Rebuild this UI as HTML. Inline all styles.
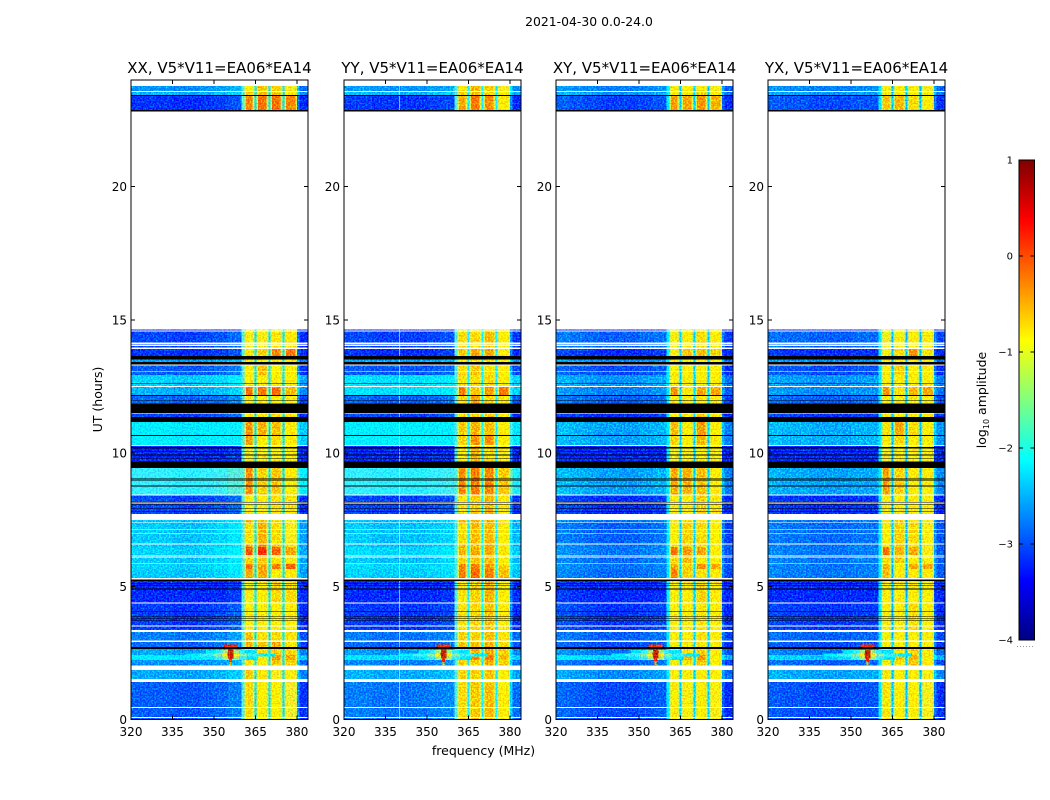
<!DOCTYPE html>
<html>
<head>
<meta charset="utf-8">
<title>2021-04-30 0.0-24.0</title>
<style>
html,body{margin:0;padding:0;background:#fff;}
svg{display:block;}
text{font-family:"DejaVu Sans","Liberation Sans",sans-serif;fill:#000;}
</style>
</head>
<body>
<svg id="figure" xmlns="http://www.w3.org/2000/svg" width="1050" height="800" viewBox="0 0 1050 800">
  <defs>
    <filter id="speckle" filterUnits="userSpaceOnUse" x="0" y="0" width="1050" height="800" color-interpolation-filters="sRGB">
      <feTurbulence type="fractalNoise" baseFrequency="0.62" numOctaves="1" seed="7" result="n"/>
      <feColorMatrix in="n" type="matrix" values="1 0 0 0 0  0 0 0 0 0.5  0 0 0 0 0.5  0 0 0 0 1" result="m"/>
      <feComposite in="SourceGraphic" in2="m" operator="arithmetic" k1="1.2" k2="0.52" k3="0" k4="0" result="scaled"/>
      <feColorMatrix in="scaled" type="matrix" values="1 0 0 0 0  0 0.96 0 0 -0.16  0 0 1.1 0 0  0 0 0 1 0" result="shift"/>
      <feColorMatrix in="n" type="matrix" values="0 0 0 0 0  0 1.3 0 0 -0.49  0 0 0 0 0  0 0 0 0 1" result="g"/>
      <feComposite in="shift" in2="g" operator="arithmetic" k1="0" k2="1" k3="1" k4="0" result="sum"/>
      <feComposite in="sum" in2="SourceAlpha" operator="in"/>
    </filter>
  </defs>
  <text x="589" y="26" font-size="12.4" text-anchor="middle">2021-04-30 0.0-24.0</text>
  <text x="483.5" y="755" font-size="12.5" text-anchor="middle">frequency (MHz)</text>
  <text transform="translate(102,399.5) rotate(-90)" font-size="12.5" text-anchor="middle">UT (hours)</text>
  <text transform="translate(986,400) rotate(-90)" font-size="12.5" text-anchor="middle">log<tspan font-size="8" dy="3">10</tspan><tspan dy="-3"> amplitude</tspan></text>
  <g id="panels"></g>
  <g id="colorbar"></g>
</svg>
<script>
// ---- shared axes data ----
const panelTitles = ["XX, V5*V11=EA06*EA14", "YY, V5*V11=EA06*EA14", "XY, V5*V11=EA06*EA14", "YX, V5*V11=EA06*EA14"];
const freqTicks = [320, 335, 350, 365, 380];
const timeTicks = [0, 5, 10, 15, 20];
const colorTicks = [1, 0, -1, -2, -3, -4];

// ---- time rows: upper edge in UT hours, and the band each row belongs to ----
// band index >= 0 is data, W = no data (white), K = zero amplitude (black)
const W = -1, K = -2;
const rowTopUT = [
  .056,.094,.432,.469,1.407,1.520,1.857,2.026,2.233,2.420,2.645,2.720,2.908,2.964,3.283,3.358,3.490,3.527,3.696,3.722,
  3.771,3.794,3.846,3.869,4.045,4.071,4.353,4.383,4.882,4.908,5.009,5.032,5.099,5.122,5.197,5.261,5.310,5.647,5.846,5.872,
  6.079,6.109,6.146,6.173,6.473,6.567,6.597,6.976,6.998,7.122,7.148,7.373,7.400,7.486,7.711,7.786,7.809,7.917,7.936,8.049,
  8.064,8.109,8.135,8.161,8.405,8.439,8.735,8.773,8.949,8.976,9.006,9.036,9.448,9.689,9.790,9.812,9.914,9.936,10.038,10.060,
  10.165,10.236,10.270,10.300,10.645,10.675,11.174,11.351,11.475,11.501,11.865,11.970,12.000,12.146,12.176,12.484,12.514,12.582,12.615,12.927,
  13.051,13.084,13.291,13.328,13.426,13.516,13.651,13.902,13.959,14.015,14.053,14.079,14.146,14.552,14.604,14.641,22.825,22.870,23.396,23.433,
  23.546,23.595,23.771,24
];
const rowBand = [
  0,W,0,W,0,W,1,W,2,3,4,K,5,W,6,W,7,W,7,K,
  7,K,7,K,7,K,7,W,8,K,8,K,8,K,8,K,W,9,10,W,
  11,W,11,W,12,13,W,14,W,14,W,14,W,15,W,16,K,16,K,16,
  K,16,W,K,16,W,17,K,17,K,17,K,17,K,18,K,18,K,18,K,
  18,K,18,W,19,K,20,K,21,W,K,22,K,22,K,23,W,24,K,24,
  25,W,25,W,K,26,K,27,W,28,W,28,W,28,W,29,W,K,30,K,
  31,W,32,W
];

// ---- log10 amplitude, background level per band (33 bands) ----
const bgXX = [-3.0,-2.65,-2.75,-2.3,-2.65,-2.95,-2.85,-3.15,-3.3,-2.5,-2.45,-2.5,-2.45,-2.5,-2.5,-2.5,-3.1,-1.95,-3.3,-2.3,-2.3,-3.1,-2.95,-2.6,-2.45,-3.0,-2.7,-3.2,-3.1,-3.4,-3.2,-2.6,-2.75];
const bgYY = [-2.85,-2.6,-2.8,-2.35,-2.7,-2.95,-2.85,-3.15,-3.25,-2.45,-2.4,-2.5,-2.4,-2.5,-2.5,-2.5,-3.1,-1.95,-3.25,-2.25,-2.25,-3.1,-2.95,-2.35,-2.35,-3.0,-2.65,-3.2,-3.1,-3.4,-3.15,-2.55,-2.7];
const bgXY = [-3.05,-2.75,-2.95,-2.4,-2.85,-3.05,-2.95,-3.15,-3.25,-2.9,-2.85,-2.9,-2.85,-2.85,-2.95,-2.85,-3.2,-2.65,-3.3,-2.65,-2.65,-3.2,-2.95,-2.8,-2.7,-3.05,-2.75,-3.2,-2.95,-3.4,-3.1,-2.7,-2.8];
const bgYX = [-3.05,-2.65,-2.95,-2.45,-2.85,-3.05,-2.95,-3.15,-3.3,-2.85,-2.85,-2.85,-2.85,-2.85,-2.9,-2.85,-3.2,-2.65,-3.3,-2.6,-2.6,-3.15,-2.95,-2.75,-2.7,-3.05,-2.75,-3.2,-2.95,-3.4,-3.05,-2.7,-2.8];

// ---- log10 amplitude in the four 5 MHz sub-bands, per band ----
const passXX = [[-.55,-.7,-.8,-.95],[-.45,-.6,-.9,-.85],[-.6,-.7,-.45,-.5],[-.5,-.6,-.2,-.3],[-.6,-.55,-.5,-.55],[-.35,-.45,-.35,-.6],[-.4,-.6,-.55,-.6],[-.8,-.7,-.7,-.7],[-.85,-.75,-.55,-.55],[-.3,-.3,-.7,-.7],[-.05,-.3,-.1,0],[-.5,-.45,-.6,-.85],[.1,.25,0,-.3],[-.3,-.2,-.4,-.6],[-.55,-.35,-.55,-.9],[-.35,-.4,-.6,-.85],[-.75,-.7,-.6,-.6],[-.2,-.5,-.45,-.7],[-.9,-.85,-.85,-.8],[-.25,-.65,-.55,-.65],[-.2,-.35,-.4,-.65],[-.6,-.6,-.6,-.65],[-.75,-.8,-.8,-.85],[-.05,-.1,-.05,-.4],[-.7,-.65,-.75,-.75],[-.7,-.4,-.75,-.7],[-.75,-.65,-.6,-.6],[-.6,-.5,-.15,-.1],[-.85,-.85,-.6,-.6],[-.8,-.8,-.7,-.7],[-.15,-.05,-.05,-.15],[-.5,-.4,-.45,-.65],[-.7,-.45,-.5,-.9]];
const passYY = [[-.55,-.45,-.4,-.7],[-.5,-.5,-.45,-.7],[-.5,-.5,-.3,-.5],[-.45,-.15,-.1,-.4],[-.5,-.35,-.3,-.5],[-.4,-.4,-.35,-.55],[-.5,-.5,-.4,-.6],[-.6,-.55,-.45,-.7],[-.6,-.5,-.35,-.65],[-.1,0,-.1,-.4],[-.15,-.1,-.2,-.5],[-.5,-.45,-.4,-.75],[-.35,-.3,-.3,-.6],[-.45,-.45,-.35,-.7],[-.55,-.4,-.4,-.75],[-.4,-.35,-.35,-.6],[-.6,-.5,-.4,-.65],[-.15,-.1,-.15,-.45],[-.65,-.4,-.6,-.85],[-.5,-.2,-.2,-.7],[-.45,-.35,-.4,-.65],[-.55,-.55,-.5,-.65],[-.55,-.3,-.55,-.7],[-.1,-.45,-.25,-.1],[-.6,-.55,-.55,-.7],[-.55,-.45,-.6,-.7],[-.7,-.6,-.55,-.65],[-.45,-.3,-.3,-.65],[-.55,-.55,-.4,-.8],[-.7,-.7,-.6,-.7],[-.3,-.1,-.2,-.65],[-.5,-.4,-.5,-.8],[-.6,-.35,-.5,-.9]];
const passXY = [[-.65,-.85,-.8,-.85],[-.7,-.8,-.8,-.8],[-.7,-.6,-.45,-.75],[-.65,-.3,-.2,-.7],[-.7,-.6,-.5,-.8],[-.75,-.7,-.6,-.8],[-.8,-.75,-.6,-.75],[-.8,-.8,-.6,-.75],[-.75,-.8,-.5,-.65],[-.1,-.5,-.6,-.8],[-.3,-.5,-.2,-.3],[-.5,-.4,-.7,-.8],[-.05,-.25,-.3,-.8],[-.6,-.5,-.6,-.8],[-.7,-.5,-.55,-.8],[-.6,-.6,-.6,-.8],[-.75,-.7,-.5,-.6],[-.3,-.35,-.4,-.65],[-.9,-.85,-.8,-.85],[-.5,-.75,-.35,-.65],[-.4,-.65,-.25,-.7],[-.7,-.7,-.5,-.7],[-.7,-.85,-.8,-.85],[-.2,-.7,-.3,-.3],[-.7,-.7,-.8,-.8],[-.7,-.7,-.7,-.8],[-.75,-.7,-.65,-.7],[-.8,-.45,-.4,-.5],[-.85,-.8,-.55,-.65],[-.8,-.8,-.7,-.7],[-.25,-.3,-.2,-.35],[-.7,-.65,-.5,-.7],[-.8,-.75,-.65,-.85]];
const passYX = [[-.6,-.8,-.7,-.9],[-.6,-.75,-.65,-.85],[-.65,-.6,-.45,-.8],[-.6,-.4,-.35,-.8],[-.65,-.6,-.5,-.8],[-.7,-.75,-.7,-.8],[-.75,-.75,-.7,-.8],[-.75,-.8,-.55,-.7],[-.75,-.8,-.7,-.7],[-.4,-.65,-.7,-.8],[-.35,-.65,-.3,-.3],[-.55,-.45,-.7,-.85],[-.05,-.35,-.3,-.85],[-.6,-.5,-.6,-.85],[-.7,-.5,-.55,-.85],[-.6,-.5,-.6,-.85],[-.8,-.75,-.65,-.75],[-.25,-.5,-.65,-.7],[-.9,-.85,-.85,-.85],[-.75,-.55,-.7,-.75],[-.6,-.3,-.55,-.7],[-.7,-.7,-.7,-.75],[-.75,-.85,-.85,-.85],[-.2,-.6,-.4,-.3],[-.7,-.7,-.8,-.8],[-.75,-.5,-.8,-.8],[-.8,-.7,-.7,-.75],[-.8,-.55,-.2,-.6],[-.9,-.85,-.8,-.8],[-.8,-.8,-.7,-.7],[-.45,-.4,-.55,-.7],[-.7,-.65,-.7,-.8],[-.8,-.7,-.7,-.9]];
const passLevelShift = -0.08;

// ---- spectral shape of each polarisation ----
const bgShapeXX = [.05,.05,.05,0,0,.05,.1,.2];
const bgShapeYY = [.05,.05,0,0,0,0,.05,.1];
const bgShapeXY = [.15,.1,.05,0,0,0,.05,.1];
const bgShapeYX = [.1,.05,.05,0,0,0,.05,.05];
const edgeLevels = [-1.75,-1.75,-2.15,-2.2];
const haloLevels = [-1.2,-1.15,-1.2,-1.25];
const notchLevels = [-2.3,-2.0,-2.4,-2.5];
const nearWingOffsets = [.3,.45,.15,.2];
const farWingOffsets = [-.15,-.05,-.15,-.1];
const rfiChannels = [null,340,null,null];

// ---- bright interference near 356 MHz ----
const spikeFreq = 356;
const spikeUT = [2.10,2.22,2.34,2.46,2.58,2.76];
const spikeHalfWidth = [.4,.6,1.0,1.1,1.0,2.5];
const spikeLevel = [-.5,.2,.75,.8,.75,.2];
const glowUT = [2.30,2.30,2.30,2.42,2.42,2.42,2.42,2.54,2.54,2.54];
const glowHalfWidth = [10,6,3,16,11,6,3,9,5,3];
const glowLevel = [-2.3,-1.9,-1.4,-2.25,-1.85,-1.5,-.9,-2.3,-1.9,-1.4];

// ---- channel columns (MHz) ----
const columnEdges = [320,325,330,335,340,345,350,355,360,361,361.6,364,364.6,365.4,366,369,369.7,370.5,371,374,374.7,375.5,376,379.4,380,381,384];
const columnKind = ["bg0","bg1","bg2","bg3","bg4","bg5","bg6","bg7","edge","halo","p0","halo","notch","halo","p1","halo","notch","halo","p2","halo","notch","halo","p3","halo","near","far"];

const bgByPanel = [bgXX, bgYY, bgXY, bgYX];
const passByPanel = [passXX, passYY, passXY, passYX];
const shapeByPanel = [bgShapeXX, bgShapeYY, bgShapeXY, bgShapeYX];

// ---- layout & scales ----
const panelLeft = [131, 344, 556, 768];
const panelWidth = 177;
const plotTop = 80, plotBottom = 719.5;
const xScale = (f, left) => left + (f - 320) / 64 * panelWidth;
const yScale = h => plotBottom - h / 24 * (plotBottom - plotTop);
const cbLeft = 1019, cbRight = 1034.5, cbTop = 160, cbBottom = 640;
const cbScale = v => cbBottom - (v + 4) / 5 * (cbBottom - cbTop);

function clip01(v){ return Math.max(0, Math.min(1, v)); }
function jet(level){
  const t = clip01((level + 4) / 5);
  const r = clip01(1.5 - Math.abs(4 * t - 3));
  const g = clip01(1.5 - Math.abs(4 * t - 2));
  const b = clip01(1.5 - Math.abs(4 * t - 1));
  return "rgb(" + Math.round(r * 255) + "," + Math.round(g * 255) + "," + Math.round(b * 255) + ")";
}
const NS = "http://www.w3.org/2000/svg";
function mk(tag, attrs, parent){
  const el = document.createElementNS(NS, tag);
  for (const k in attrs) el.setAttribute(k, attrs[k]);
  parent.appendChild(el);
  return el;
}
function cellLevel(kind, band, p){
  if (kind.startsWith("bg")) return bgByPanel[p][band] + shapeByPanel[p][+kind.slice(2)];
  if (kind === "edge") return edgeLevels[p];
  if (kind === "halo") return haloLevels[p];
  if (kind === "notch") return notchLevels[p];
  if (kind === "near") return bgByPanel[p][band] + nearWingOffsets[p];
  if (kind === "far") return bgByPanel[p][band] + farWingOffsets[p];
  return passByPanel[p][band][+kind.slice(1)] + passLevelShift;
}

const panelsRoot = document.getElementById("panels");
panelTitles.forEach((title, p) => {
  const left = panelLeft[p], right = left + panelWidth;
  const g = mk("g", {}, panelsRoot);
  
  

  const heat = mk("g", {filter: "url(#speckle)", "shape-rendering": "crispEdges"}, g);
  
  
  const flags = mk("g", {"shape-rendering": "crispEdges"}, g);
  
  

  let lower = 0;
  rowTopUT.forEach((upper, r) => {
    const band = rowBand[r];
    const y = yScale(upper), h = yScale(lower) - y;
    if (band >= 0) {
      columnKind.forEach((kind, c) => {
        const x0 = xScale(columnEdges[c], left), x1 = xScale(columnEdges[c + 1], left);
        const cell = mk("rect", {x: x0, y: y, width: x1 - x0, height: h, fill: jet(cellLevel(kind, band, p))}, heat);
        
        
      });
      if (rfiChannels[p] !== null) {
        const xr = xScale(rfiChannels[p], left);
        const line = mk("rect", {x: xr - .5, y: y, width: 1, height: h, fill: jet(bgByPanel[p][band] + 1.0)}, heat);
        
        
      }
    } else {
      const flag = mk("rect", {x: left, y: y, width: panelWidth, height: h, fill: band === K ? "#000" : "#fff"}, flags);
      
      
    }
    lower = upper;
  });

  // interference glow and core around the spike channel
  const drawSpike = (ut, hw, lvl, name) => {
    const x0 = xScale(spikeFreq - hw, left), x1 = xScale(spikeFreq + hw, left);
    const y0 = yScale(ut + .06), y1 = yScale(ut - .06);
    const s = mk("rect", {x: x0, y: y0, width: x1 - x0, height: y1 - y0, fill: jet(lvl)}, heat);
    
    
  };
  glowUT.forEach((ut, i) => drawSpike(ut, glowHalfWidth[i], glowLevel[i], 'rfi-glow'));
  spikeUT.forEach((ut, i) => drawSpike(ut, spikeHalfWidth[i], spikeLevel[i], 'rfi-spike'));

  // frame
  const frame = mk("rect", {x: left, y: plotTop, width: panelWidth, height: plotBottom - plotTop, fill: "none", stroke: "#000", "stroke-width": 1, "shape-rendering": "crispEdges"}, g);
  
  

  // x ticks
  freqTicks.forEach(f => {
    const x = xScale(f, left);
    const t1 = mk("line", {x1: x, x2: x, y1: plotBottom, y2: plotBottom - 4, stroke: "#000", "shape-rendering": "crispEdges"}, g);
    
    
    const t2 = mk("line", {x1: x, x2: x, y1: plotTop, y2: plotTop + 4, stroke: "#000", "shape-rendering": "crispEdges"}, g);
    
    
    const lb = mk("text", {x: x, y: 736, "font-size": 12, "text-anchor": "middle"}, g);
    lb.textContent = f;
    
    
  });

  // y ticks
  timeTicks.forEach(h => {
    const y = yScale(h);
    const t1 = mk("line", {x1: left, x2: left + 4, y1: y, y2: y, stroke: "#000", "shape-rendering": "crispEdges"}, g);
    
    
    const t2 = mk("line", {x1: right, x2: right - 4, y1: y, y2: y, stroke: "#000", "shape-rendering": "crispEdges"}, g);
    
    
    const lb = mk("text", {x: left - 4, y: y + 4.5, "font-size": 12, "text-anchor": "end"}, g);
    lb.textContent = h;
    
    
  });

  const tt = mk("text", {x: left + panelWidth / 2, y: 73, "font-size": 15, "text-anchor": "middle"}, g);
  tt.textContent = title;
  
  
});

// ---- colorbar ----
const cbRoot = document.getElementById("colorbar");
for (let i = 0; i < 240; i++) {
  const lvl = -4 + (i + .5) / 240 * 5;
  const hi = -4 + (i + 1) / 240 * 5, lo = -4 + i / 240 * 5;
  const seg = mk("rect", {x: cbLeft, y: cbScale(hi), width: cbRight - cbLeft, height: cbScale(lo) - cbScale(hi) + .4, fill: jet(lvl), "shape-rendering": "crispEdges"}, cbRoot);
  
  
}
const cbFrame = mk("rect", {x: cbLeft, y: cbTop, width: cbRight - cbLeft, height: cbBottom - cbTop, fill: "none", stroke: "#000", "shape-rendering": "crispEdges"}, cbRoot);


colorTicks.forEach(v => {
  const y = cbScale(v);
  const a = mk("line", {x1: cbLeft, x2: cbLeft + 4, y1: y, y2: y, stroke: "#000", "shape-rendering": "crispEdges"}, cbRoot);
  
  
  const b = mk("line", {x1: cbRight, x2: cbRight - 4, y1: y, y2: y, stroke: "#000", "shape-rendering": "crispEdges"}, cbRoot);
  
  
  const lb = mk("text", {x: 1013, y: y + 3.5, "font-size": 10, "text-anchor": "end"}, cbRoot);
  lb.textContent = v < 0 ? "\u2212" + Math.abs(v) : String(v);
  
  
});
const cbDots = mk("line", {x1: 1017, x2: 1035, y1: 646.5, y2: 646.5, stroke: "#999", "stroke-dasharray": "1 2"}, cbRoot);


</script>
</body>
</html>
